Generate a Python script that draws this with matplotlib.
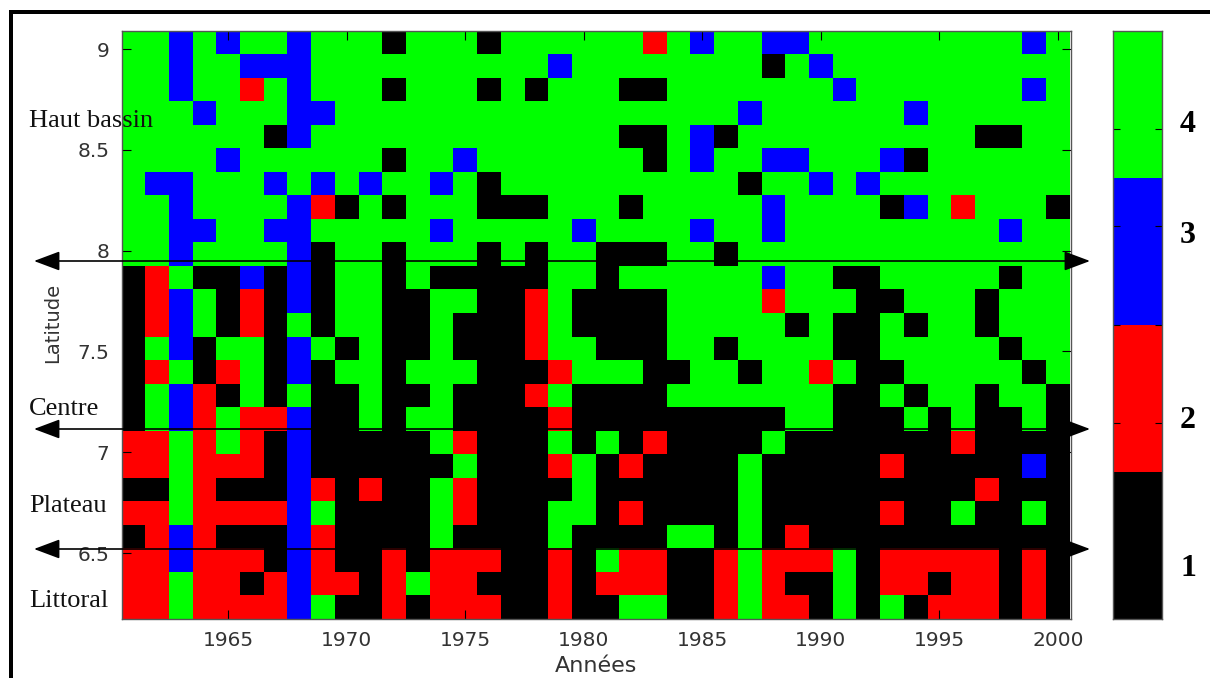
import numpy as np
import matplotlib
matplotlib.use('Agg')
import matplotlib.pyplot as plt
from matplotlib.colors import ListedColormap
from matplotlib.patches import Rectangle

# one string per latitude band, top to bottom, one digit per year (1961-2000)
# grouped by ten years to keep it readable
classes_top = [
    '4434344344 4144414444 4424344334 4444444434',
    '4434433344 4444444434 4444444143 4444444444',
    '4434424344 4144414144 4114444444 3444444434',
    '4443444334 4444444444 4444443444 4443444444',
    '4444441344 4444444444 4114314444 4444441144',
    '4444344444 4144344444 4414344334 4431444444',
    '4334443434 3443414444 4444441443 4344444444',
    '4434444321 4144411144 4144444344 4413424441',
    '4433443344 4443444443 4444344344 4444444344',
    '4434444314 4144414144 1114414444 4444444444',
]
classes_middle = [
    '1241131314 4141111144 1444444344 1144444144',
    '1234121314 4114411241 1114444244 4114441444',
    '1234121414 4114111241 1114444414 1141441444',
    '1431441341 4114111244 1114414444 1144444144',
    '1241241314 4144411124 4411441442 4114444414',
    '1432141411 4114111241 1114444444 1141441441',
    '1432422311 4144111121 1111111144 1114141141',
]
classes_bottom = [
    '2242421311 1114211141 4121111411 1111121111',
    '2242221311 1111411124 1211114111 1121111131',
    '1142111321 2114211114 1111114111 1111112111',
    '2242222341 1114211144 1211114111 1121141141',
    '1232111321 1114111141 1114414121 1111111111',
    '2232221321 1212221121 4221124222 4122222121',
    '2242212322 1242211121 2221124211 4122122121',
    '2242222341 1212221121 1441124221 4141222121',
]
years = np.arange(1961, 2001)
lat_ticks = [6.5, 7, 7.5, 8, 8.5, 9]
lat_tick_labels = ['6.5', '7', '7.5', '8', '8.5', '9']
year_ticks = [1965, 1970, 1975, 1980, 1985, 1990, 1995, 2000]
lat_bottom = 6.173
lat_top = 9.092
class_levels = [1, 2, 3, 4]
class_colors = ['#000000', '#ff0000', '#0000ff', '#00ff00']
class_labels = ['1', '2', '3', '4']
class_label_y = [568.5, 420.5, 235, 125]
colorbar_ticks = [1.17, 1.83, 2.5, 3.17, 3.83]
region_names = ['Haut bassin', 'Centre', 'Plateau', 'Littoral']
region_y = [121, 409, 506, 601]
limit_y = [261, 429, 549]

W, H = 1210, 678
fig = plt.figure(figsize=(W / 100, H / 100), dpi=100)


def px_axes(x0, y0, x1, y1):
    return fig.add_axes([x0 / W, 1 - y1 / H, (x1 - x0) / W, (y1 - y0) / H])


rows = classes_top + classes_middle + classes_bottom
grid = np.array([[int(c) for c in r.replace(' ', '')] for r in rows])
cmap = ListedColormap(class_colors)
lat_edges = np.linspace(lat_top, lat_bottom, grid.shape[0] + 1)
year_edges = np.append(years - 0.5, years[-1] + 0.5)

ax = px_axes(122, 30.5, 1071, 619)
ax.pcolormesh(year_edges, lat_edges, grid, cmap=cmap, vmin=0.5, vmax=4.5)
ax.set_xlim(1960.52, 2000.55)
ax.set_ylim(lat_bottom, lat_top)
ax.set_xticks(year_ticks)
ax.set_yticks(lat_ticks)
ax.set_yticklabels(lat_tick_labels)
ax.tick_params(direction='in', length=6.5, width=0.8, top=True, right=True,
               labelsize=14.5, labelcolor='#333333', pad=9)
ax.set_xlabel('Années', fontsize=16, color='#333333', labelpad=4)
ax.set_ylabel('Latitude', fontsize=14, color='#333333')
ax.yaxis.set_label_coords(-0.063, 0.503)
for s in ax.spines.values():
    s.set_color('#555555')
    s.set_linewidth(1)

cax = px_axes(1113, 30.5, 1162, 619)
cax.pcolormesh([0, 1], np.arange(0.5, 5), np.array(class_levels)[:, None],
               cmap=cmap, vmin=0.5, vmax=4.5)
cax.set_xticks([])
cax.set_yticks(colorbar_ticks)
cax.set_yticklabels([])
cax.tick_params(direction='in', length=4.7, width=0.8, left=True, right=True)
for s in cax.spines.values():
    s.set_color('#555555')
    s.set_linewidth(1)

serif = 'Liberation Serif'
for lab, y in zip(class_labels, class_label_y):
    fig.text(1188 / W, 1 - y / H, lab, family=serif, weight='bold', fontsize=23,
             ha='center', va='center')
for name, y in zip(region_names, region_y):
    fig.text(29 / W, 1 - y / H, name, family=serif, fontsize=19, ha='left',
             va='center', color='#111111')

# the three limits between regions
for y in limit_y:
    ax.annotate('', xy=(1090, H - y), xytext=(34, H - y), xycoords='figure pixels',
                textcoords='figure pixels', annotation_clip=False,
                arrowprops=dict(arrowstyle='<|-|>,head_length=0.8,head_width=0.3',
                                color='black', lw=1.2, shrinkA=0, shrinkB=0,
                                mutation_scale=20))

# frame of the page, only left and top
fig.add_artist(Rectangle((9 / W, 0), 4 / W, 1 - 10 / H, transform=fig.transFigure,
                         color='black', lw=0))
fig.add_artist(Rectangle((9 / W, 1 - 14 / H), 1 - 9 / W, 4 / H, transform=fig.transFigure,
                         color='black', lw=0))

fig.savefig('out.png', dpi=100)
